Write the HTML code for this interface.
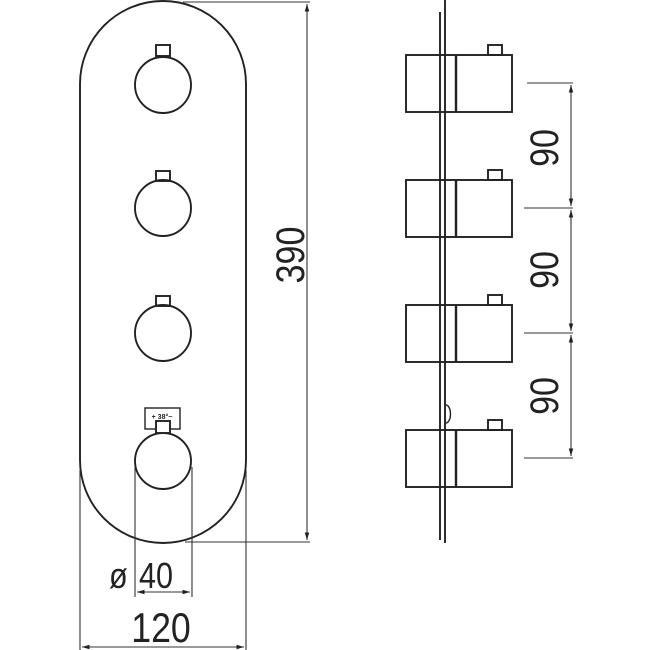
<!DOCTYPE html><html><head><style>body{margin:0;background:#fff}svg{display:block}text{font-family:"Liberation Sans",sans-serif;fill:#222}</style></head><body>
<svg width="650" height="650" viewBox="0 0 650 650" xmlns="http://www.w3.org/2000/svg">
<defs><marker id="a" viewBox="0 0 10 10" refX="10" refY="5" markerWidth="7" markerHeight="7" orient="auto-start-reverse"><path d="M0,2 L10,5 L0,8 z" fill="#222"/></marker></defs>
<g fill="none" stroke="#222" stroke-width="1.9">
<rect x="80" y="1" width="166" height="542" rx="83" ry="83"/>
<circle cx="163" cy="85" r="28"/><rect x="156" y="45" width="14" height="11"/>
<circle cx="163" cy="208" r="28"/><rect x="156" y="171" width="14" height="10"/>
<circle cx="163" cy="333" r="28"/><rect x="156" y="296" width="14" height="10"/>
<circle cx="163" cy="461" r="28"/><rect x="145" y="408" width="35" height="21" stroke-width="1.4"/><rect x="156" y="421" width="14" height="12" fill="#fff"/>
</g>
<text x="162" y="419" font-size="7" text-anchor="middle" font-weight="bold">+ 38°−</text>
<g stroke="#333" stroke-width="1.1" fill="none">
<line x1="183" y1="2" x2="310" y2="2"/><line x1="185" y1="542" x2="310" y2="542"/>
<line x1="307" y1="4" x2="307" y2="540" marker-start="url(#a)" marker-end="url(#a)"/>
<line x1="135" y1="467" x2="135" y2="597"/><line x1="192" y1="467" x2="192" y2="597"/>
<line x1="137" y1="592" x2="190" y2="592" marker-start="url(#a)" marker-end="url(#a)"/>
<line x1="80" y1="470" x2="80" y2="650"/><line x1="246" y1="470" x2="246" y2="650"/>
<line x1="82" y1="647" x2="244" y2="647" marker-start="url(#a)" marker-end="url(#a)"/>
<line x1="527" y1="83" x2="573" y2="83"/><line x1="524" y1="208" x2="573" y2="208"/><line x1="524" y1="333" x2="573" y2="333"/><line x1="524" y1="458" x2="573" y2="458"/>
<line x1="571" y1="85" x2="571" y2="206" marker-start="url(#a)" marker-end="url(#a)"/>
<line x1="571" y1="210" x2="571" y2="331" marker-start="url(#a)" marker-end="url(#a)"/>
<line x1="571" y1="335" x2="571" y2="456" marker-start="url(#a)" marker-end="url(#a)"/>
</g>
<g fill="none" stroke="#222" stroke-width="1.9">
<line x1="440" y1="12" x2="440" y2="540"/><line x1="445" y1="0" x2="445" y2="543"/>
<g id="k"><rect x="406" y="55" width="106" height="57"/><line x1="456" y1="55" x2="456" y2="112" stroke-width="2.4"/><rect x="488" y="45" width="14" height="10"/></g>
<use href="#k" y="125"/><use href="#k" y="250"/><use href="#k" y="375"/>
<path d="M446,405 a4,8 0 0 1 0,18" stroke-width="1.4"/>
</g>
<text transform="translate(304,255) rotate(-90) scale(0.85,1)" text-anchor="middle" font-size="40">390</text>
<text transform="translate(558,148) rotate(-90) scale(0.85,1)" text-anchor="middle" font-size="40">90</text>
<text transform="translate(558,270) rotate(-90) scale(0.85,1)" text-anchor="middle" font-size="40">90</text>
<text transform="translate(558,396) rotate(-90) scale(0.85,1)" text-anchor="middle" font-size="40">90</text>
<text transform="translate(109,588) scale(0.85,1)" font-size="36">ø</text>
<text transform="translate(139,588) scale(0.85,1)" font-size="36">40</text>
<text transform="translate(161,642) scale(0.85,1)" text-anchor="middle" font-size="42">120</text>
</svg></body></html>
